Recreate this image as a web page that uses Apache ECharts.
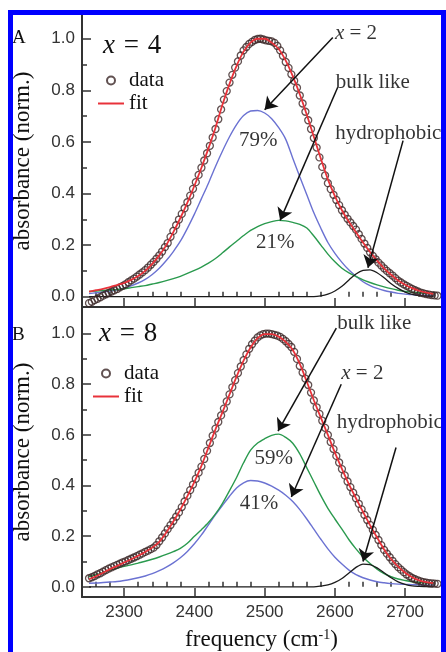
<!DOCTYPE html>
<html><head><meta charset="utf-8">
<script src="https://cdn.jsdelivr.net/npm/echarts@6/dist/echarts.min.js"></script>
<style>
html,body{margin:0;padding:0;background:#fff;width:446px;height:652px;overflow:hidden}
#chart{position:absolute;left:0;top:0;width:446px;height:652px}
#frame{position:absolute;left:8px;top:10px;width:428px;height:700px;border:5px solid #0000ff;pointer-events:none;z-index:10}
</style></head><body>
<div id="chart"></div><div id="frame"></div>
<script>
// ---------- data ----------
const dataFreq = [2250,2254,2258,2262,2266,2270,2274,2278,2282,2286,
2290,2294,2298,2302,2306,2310,2314,2318,2322,2326,
2330,2334,2338,2342,2346,2350,2354,2358,2362,2366,
2370,2374,2378,2382,2386,2390,2394,2398,2402,2406,
2410,2414,2418,2422,2426,2430,2434,2438,2442,2446,
2450,2454,2458,2462,2466,2470,2474,2478,2482,2486,
2490,2494,2498,2502,2506,2510,2514,2518,2522,2526,
2530,2534,2538,2542,2546,2550,2554,2558,2562,2566,
2570,2574,2578,2582,2586,2590,2594,2598,2602,2606,
2610,2614,2618,2622,2626,2630,2634,2638,2642,2646,
2650,2654,2658,2662,2666,2670,2674,2678,2682,2686,
2690,2694,2698,2702,2706,2710,2714,2718,2722,2726,
2730,2734,2738,2742,2746];

const dataA = [-0.025,-0.02,-0.013,-0.008,-0.002,0.004,0.009,0.015,0.02,0.025,
0.03,0.036,0.042,0.048,0.056,0.063,0.07,0.078,0.086,0.094,
0.103,0.113,0.124,0.135,0.147,0.16,0.175,0.192,0.208,0.232,
0.255,0.277,0.299,0.321,0.343,0.366,0.392,0.418,0.444,0.472,
0.5,0.528,0.556,0.585,0.617,0.65,0.688,0.726,0.764,0.797,
0.83,0.86,0.888,0.912,0.935,0.955,0.968,0.98,0.988,0.995,
0.999,1.0,0.997,0.994,0.992,0.99,0.984,0.972,0.955,0.934,
0.91,0.887,0.862,0.837,0.81,0.78,0.749,0.717,0.684,0.65,
0.615,0.578,0.54,0.503,0.47,0.44,0.417,0.395,0.375,0.355,
0.335,0.318,0.302,0.288,0.274,0.26,0.242,0.224,0.206,0.189,
0.172,0.158,0.145,0.132,0.121,0.11,0.1,0.091,0.082,0.072,
0.062,0.055,0.048,0.042,0.036,0.03,0.025,0.02,0.016,0.013,
0.01,0.008,0.006,0.005,0.004];

const dataB = [0.034,0.038,0.043,0.049,0.054,0.06,0.066,0.072,0.077,0.082,
0.087,0.092,0.097,0.101,0.106,0.111,0.116,0.121,0.127,0.132,
0.138,0.143,0.149,0.155,0.165,0.18,0.195,0.211,0.228,0.244,
0.26,0.277,0.294,0.315,0.337,0.36,0.382,0.404,0.427,0.451,
0.475,0.505,0.537,0.568,0.597,0.625,0.651,0.677,0.704,0.732,
0.76,0.788,0.816,0.844,0.87,0.895,0.918,0.94,0.958,0.972,
0.985,0.993,0.998,1.0,1.0,0.998,0.995,0.992,0.987,0.979,
0.97,0.959,0.947,0.928,0.9,0.872,0.846,0.822,0.797,0.767,
0.736,0.709,0.683,0.656,0.628,0.6,0.572,0.544,0.517,0.491,
0.465,0.44,0.416,0.394,0.372,0.35,0.328,0.306,0.284,0.264,
0.245,0.225,0.205,0.185,0.165,0.146,0.131,0.117,0.103,0.09,
0.078,0.068,0.058,0.049,0.042,0.035,0.03,0.026,0.022,0.019,
0.017,0.015,0.014,0.013,0.012];

const compFreq = [2250,2260,2270,2280,2290,2300,2310,2320,2330,2340,
2350,2360,2370,2380,2390,2400,2410,2420,2430,2440,
2450,2460,2470,2480,2490,2500,2510,2520,2530,2540,
2550,2560,2570,2580,2590,2600,2610,2620,2630,2640,
2650,2660,2670,2680,2690,2700,2710,2720,2730,2740];

const fitA = [0.02,0.025,0.03,0.037,0.045,0.053,0.065,0.08,0.1,0.127,
0.16,0.2,0.25,0.305,0.365,0.43,0.5,0.575,0.655,0.745,
0.825,0.895,0.95,0.985,1.0,1.0,0.985,0.96,0.915,0.855,
0.785,0.705,0.62,0.535,0.455,0.39,0.335,0.29,0.25,0.21,
0.173,0.14,0.11,0.085,0.063,0.046,0.033,0.023,0.016,0.011];
const x2A = [0.012,0.015,0.018,0.022,0.027,0.033,0.042,0.053,0.067,0.086,
0.11,0.14,0.175,0.215,0.265,0.32,0.38,0.44,0.505,0.565,
0.62,0.667,0.702,0.72,0.722,0.712,0.69,0.655,0.61,0.537,
0.465,0.395,0.325,0.265,0.21,0.168,0.133,0.103,0.079,0.058,
0.043,0.032,0.024,0.018,0.013,0.01,0.008,0.006,0.005,0.004];
const bulkA = [0.02,0.022,0.024,0.026,0.028,0.031,0.035,0.039,0.043,0.049,
0.055,0.062,0.07,0.079,0.09,0.102,0.115,0.13,0.148,0.17,
0.193,0.215,0.237,0.257,0.272,0.283,0.291,0.296,0.294,0.288,
0.28,0.266,0.235,0.2,0.165,0.135,0.11,0.092,0.078,0.065,
0.055,0.046,0.038,0.031,0.025,0.02,0.017,0.015,0.013,0.012];
const hydroA = [0,0,0,0,0,0,0,0,0,0,
0,0,0,0,0,0,0,0,0,0,
0,0,0,0,0,0,0,0,0,0,
0,0,0,0.003,0.01,0.022,0.04,0.065,0.088,0.102,
0.104,0.093,0.073,0.05,0.032,0.018,0.009,0.004,0.002,0.001];

const fitB = [0.03,0.042,0.056,0.07,0.083,0.096,0.109,0.123,0.138,0.155,
0.178,0.215,0.258,0.305,0.358,0.415,0.478,0.55,0.622,0.69,
0.76,0.83,0.893,0.945,0.982,0.998,0.998,0.988,0.967,0.935,
0.88,0.81,0.737,0.668,0.6,0.53,0.466,0.405,0.35,0.296,
0.244,0.195,0.148,0.11,0.08,0.056,0.038,0.026,0.019,0.015];
const x2B = [0.014,0.015,0.017,0.019,0.021,0.025,0.03,0.036,0.043,0.052,
0.064,0.078,0.095,0.115,0.14,0.17,0.205,0.245,0.285,0.322,
0.358,0.39,0.411,0.42,0.418,0.41,0.398,0.382,0.362,0.337,
0.305,0.268,0.228,0.188,0.15,0.117,0.09,0.066,0.048,0.036,
0.027,0.02,0.016,0.013,0.011,0.01,0.009,0.008,0.007,0.007];
const bulkB = [0.04,0.048,0.056,0.066,0.074,0.081,0.087,0.094,0.101,0.109,
0.118,0.128,0.139,0.152,0.172,0.2,0.226,0.254,0.288,0.33,
0.38,0.432,0.49,0.54,0.568,0.585,0.598,0.603,0.59,0.567,
0.525,0.47,0.415,0.36,0.31,0.268,0.228,0.186,0.15,0.118,
0.092,0.07,0.052,0.04,0.031,0.025,0.02,0.017,0.015,0.014];
const hydroB = [0,0,0,0,0,0,0,0,0,0,
0,0,0,0,0,0,0,0,0,0,
0,0,0,0,0,0,0,0,0,0,
0,0,0,0.003,0.008,0.018,0.033,0.055,0.077,0.09,
0.088,0.075,0.056,0.036,0.02,0.01,0.004,0.002,0.001,0];

const xMajor = [2300,2400,2500,2600,2700];
const xMinor = [2260,2280,2320,2340,2360,2380,2420,2440,2460,2480,2520,2540,2560,2580,2620,2640,2660,2680,2720,2740];
const yMajor = [0,0.2,0.4,0.6,0.8,1.0];
const yMinor = [0.1,0.3,0.5,0.7,0.9];

// annotation texts and their anchor points (data coordinates)
const annotA = [
  {t:'{i|x} = 2', f:2630, v:1.02},
  {t:'bulk like', f:2654, v:0.832},
  {t:'hydrophobic', f:2676, v:0.634},
  {t:'79%', f:2491, v:0.607},
  {t:'21%', f:2515, v:0.209}
];
const arrowsA = [[2597,1.005,2500,0.725],[2604,0.812,2522,0.296],[2697,0.605,2647,0.112]];
const annotB = [
  {t:'bulk like', f:2656, v:1.039},
  {t:'{i|x} = 2', f:2639, v:0.844},
  {t:'hydrophobic', f:2678, v:0.65},
  {t:'59%', f:2513, v:0.506},
  {t:'41%', f:2492, v:0.331}
];
const arrowsB = [[2602,1.022,2519,0.615],[2609,0.8,2538,0.355],[2687,0.55,2640,0.1]];

// ---------- styling ----------
const SERIF = "'Liberation Serif','Times New Roman',serif";
const SANS = "'Liberation Sans',Arial,sans-serif";
const AX = '#333';
const TXT = '#000';
const pairs = (xs, ys) => xs.map((x, i) => [x, ys[i]]);

function xAxes(gi, withLabels) {
  const main = {
    type:'value', gridIndex:gi, position:'bottom', min:2240, max:2751,
    axisLine:{show:true, onZero:false, lineStyle:{color:AX, width:2}},
    axisTick:{show:true, inside:true, length:9, lineStyle:{color:AX, width:1.5}, customValues:xMajor},
    axisLabel:{show:withLabels, customValues:xMajor, formatter:v => String(v), margin:7, fontFamily:SANS, fontSize:17, color:'#333'},
    splitLine:{show:false}
  };
  if (withLabels) {
    main.name = 'frequency (cm{sup|-1})';
    main.nameLocation = 'middle';
    main.nameGap = 31;
    main.nameTextStyle = {fontFamily:SERIF, fontSize:23, color:'#111',
      rich:{sup:{fontFamily:SERIF, fontSize:14, color:'#111', verticalAlign:'top'}}};
  }
  const minor = {
    type:'value', gridIndex:gi, position:'bottom', min:2240, max:2751,
    axisLine:{show:false},
    axisTick:{show:true, inside:true, length:5, lineStyle:{color:AX, width:1.5}, customValues:xMinor},
    axisLabel:{show:false}, splitLine:{show:false}
  };
  return [main, minor];
}
function yAxes(gi, max) {
  return [{
    type:'value', gridIndex:gi, position:'left', min:-0.04, max:max,
    axisLine:{show:true, onZero:false, lineStyle:{color:AX, width:2}},
    axisTick:{show:true, inside:true, length:9, lineStyle:{color:AX, width:1.5}, customValues:yMajor},
    axisLabel:{show:true, customValues:yMajor, formatter:v => Number(v).toFixed(1), margin:7, fontFamily:SANS, fontSize:17, color:'#333'},
    splitLine:{show:false},
    name:'absorbance (norm.)', nameLocation:'middle', nameGap:48,
    nameTextStyle:{fontFamily:SERIF, fontSize:23, color:'#111'}
  },{
    type:'value', gridIndex:gi, position:'left', min:-0.04, max:max,
    axisLine:{show:false},
    axisTick:{show:true, inside:true, length:5, lineStyle:{color:AX, width:1.5}, customValues:yMinor},
    axisLabel:{show:false}, splitLine:{show:false}
  }];
}

function panelSeries(xi, yi, data, fit, x2, bulk, hydro, annot, arrows) {
  const base = {xAxisIndex:xi, yAxisIndex:yi, animation:false, silent:true};
  const comp = (name, vals, color, w) => Object.assign({}, base, {
    type:'line', name:name, data:pairs(compFreq, vals), showSymbol:false, symbol:'none', smooth:0.3,
    lineStyle:{color:color, width:w}, itemStyle:{color:color}, z:2
  });
  return [
    comp('x=2', x2, '#6b72d2', 1.4),
    comp('bulk like', bulk, '#2a9a4e', 1.4),
    comp('hydrophobic', hydro, '#1b1b1b', 1.3),
    Object.assign({}, base, {
      type:'scatter', name:'data', data:pairs(dataFreq, data), symbol:'circle', symbolSize:7,
      itemStyle:{color:'rgba(255,255,255,0)', borderColor:'#3a2626', borderWidth:1.3}, z:3
    }),
    Object.assign({}, base, {
      type:'line', name:'fit', data:pairs(compFreq, fit), showSymbol:false, symbol:'none', smooth:0.3,
      lineStyle:{color:'#e8323a', width:1.8}, itemStyle:{color:'#e8323a'}, z:4
    }),
    Object.assign({}, base, {
      type:'scatter', name:'notes', symbolSize:0, itemStyle:{color:'#000'}, z:6,
      data: annot.map(a => ({value:[a.f, a.v], name:a.t})),
      label:{show:true, position:'inside', formatter:p => p.name, fontFamily:SERIF, fontSize:21, color:TXT,
        textBorderWidth:0, textShadowBlur:0,
        rich:{i:{fontStyle:'italic', fontFamily:SERIF, fontSize:21, color:TXT, textBorderWidth:0}}},
      markLine:{silent:true, animation:false, symbol:['none','arrow'], symbolSize:12,
        label:{show:false}, lineStyle:{color:'#111', width:1.5, type:'solid'},
        emphasis:{disabled:true},
        data: arrows.map(a => [{coord:[a[0], a[1]]}, {coord:[a[2], a[3]]}])}
    })
  ];
}

const titleStyle = (size) => ({fontFamily:SERIF, fontSize:size, fontWeight:'normal', color:'#111',
  rich:{i:{fontStyle:'italic', fontFamily:SERIF, fontSize:size, color:'#111'},
        e:{fontFamily:SERIF, fontSize:size, color:'#111', padding:[0,2,0,2]}}});
// thin horizontal bar inside a 26x8 box, used as the "fit" legend icon
const FIT_ICON = 'path://M0,0M0,3L26,3L26,5L0,5ZM26,8';
const legendCfg = (left, top) => ({left:left, top:top, orient:'vertical', padding:0, itemGap:2,
  itemWidth:26, itemHeight:8, selectedMode:false,
  data:[{name:'data'}, {name:'fit', icon:FIT_ICON}],
  textStyle:{fontFamily:SERIF, fontSize:21, color:'#111'}});

const chart = echarts.init(document.getElementById('chart'), null, {renderer:'canvas'});
chart.setOption({
  animation:false,
  backgroundColor:'#fff',
  title:[
    {text:'A', left:12, top:29, padding:0, textStyle:titleStyle(19)},
    {text:'B', left:12, top:326, padding:0, textStyle:titleStyle(19)},
    {text:'{i|x} {e|=} 4', left:103, top:32, padding:0, textStyle:titleStyle(27)},
    {text:'{i|x} {e|=} 8', left:99, top:320, padding:0, textStyle:titleStyle(27)}
  ],
  legend:[legendCfg(98, 70), legendCfg(93, 363)],
  grid:[
    {left:82, top:15, width:359, height:292, containLabel:false},
    {left:82, top:307, width:359, height:295, containLabel:false}
  ],
  xAxis:[...xAxes(0, false), ...xAxes(1, true)],
  yAxis:[...yAxes(0, 1.092), ...yAxes(1, 1.105)],
  series:[
    ...panelSeries(0, 0, dataA, fitA, x2A, bulkA, hydroA, annotA, arrowsA),
    ...panelSeries(2, 2, dataB, fitB, x2B, bulkB, hydroB, annotB, arrowsB)
  ]
});
</script></body></html>
